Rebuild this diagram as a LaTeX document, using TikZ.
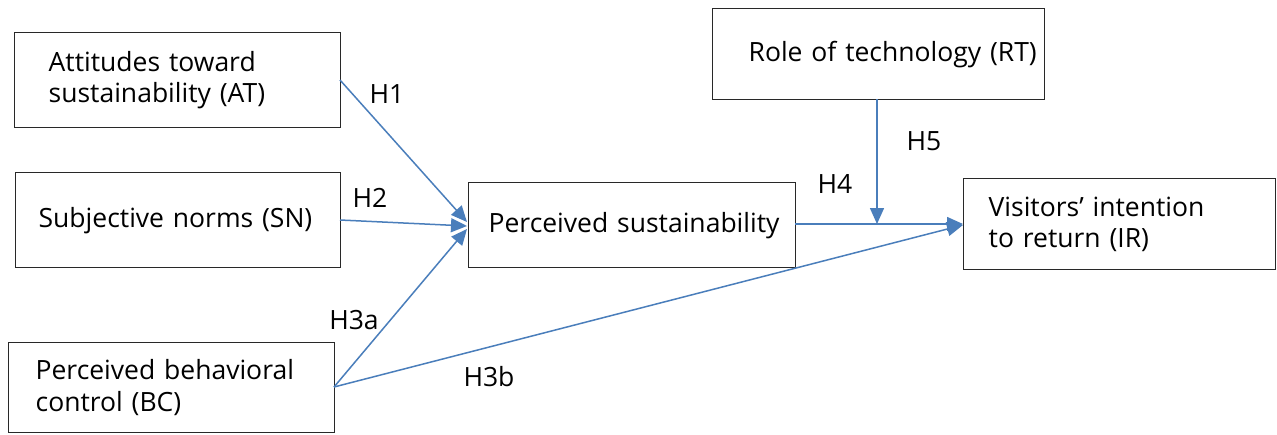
\documentclass[tikz,border=0pt]{standalone}
\usepackage{fontspec}
\setmainfont{Open Sans}
\usetikzlibrary{arrows.meta}
\definecolor{linkblue}{RGB}{74,126,187}
\definecolor{boxline}{RGB}{40,40,40}
\begin{document}
\begin{tikzpicture}[x=1pt,y=-1pt,
  every node/.style={font=\fontsize{26.5}{31.5}\selectfont},
  cbox/.style={draw=boxline, line width=1.3pt, anchor=north west, align=left, inner ysep=0pt},
  link/.style={draw=linkblue, line width=1.5pt, -{Triangle[length=16pt,width=14pt]}},
  hlabel/.style={inner sep=0pt, anchor=center}]
\useasboundingbox (0,0) rectangle (1277,434);
\fill[white] (0,0) rectangle (1277,434);
\node[cbox, minimum width=326pt, minimum height=95pt, text width=258pt, inner xsep=34pt] (AT) at (14,32) {\mbox{Attitudes toward}\\\mbox{sustainability (AT)}};
\node[cbox, minimum width=325pt, minimum height=95pt, text width=279pt, inner xsep=23pt] (SN) at (15,172) {\mbox{Subjective norms (SN)}};
\node[cbox, minimum width=326pt, minimum height=90pt, text width=272pt, inner xsep=27pt] (BC) at (8,342) {\mbox{Perceived behavioral}\\\mbox{control (BC)}};
\node[cbox, minimum width=327pt, minimum height=85pt, text width=287pt, inner xsep=20pt] (PS) at (468,182) {\mbox{Perceived sustainability}};
\node[cbox, minimum width=332pt, minimum height=91pt, text width=260pt, inner xsep=36pt] (RT) at (712,8) {\mbox{Role of technology (RT)}};
\node[cbox, minimum width=312pt, minimum height=91pt, text width=262pt, inner xsep=25pt] (IR) at (963,178) {\mbox{Visitors’ intention}\\\mbox{to return (IR)}};
\coordinate (atout) at (340,80);
\coordinate (snout) at (340,220);
\coordinate (bcout) at (334,387);
\coordinate (psin1) at (467,222);
\coordinate (psin2) at (467,226);
\coordinate (psin3) at (467,229);
\coordinate (psout) at (795,224);
\coordinate (irin) at (963,224);
\coordinate (irin2) at (963,225);
\coordinate (rtout) at (877,99);
\coordinate (meet) at (877,224);
\draw[link] (atout) -- (psin1);
\draw[link] (snout) -- (psin2);
\draw[link] (bcout) -- (psin3);
\draw[link] (bcout) -- (irin2);
\draw[link] (psout) -- (irin);
\draw[link] (rtout) -- (meet);
\node[hlabel] (h1) at (387,94) {H1};
\node[hlabel] (h2) at (370,198) {H2};
\node[hlabel] (h3a) at (354,320) {H3a};
\node[hlabel] (h3b) at (489,377) {H3b};
\node[hlabel] (h4) at (835,184) {H4};
\node[hlabel] (h5) at (924,141) {H5};
\end{tikzpicture}
\end{document}
